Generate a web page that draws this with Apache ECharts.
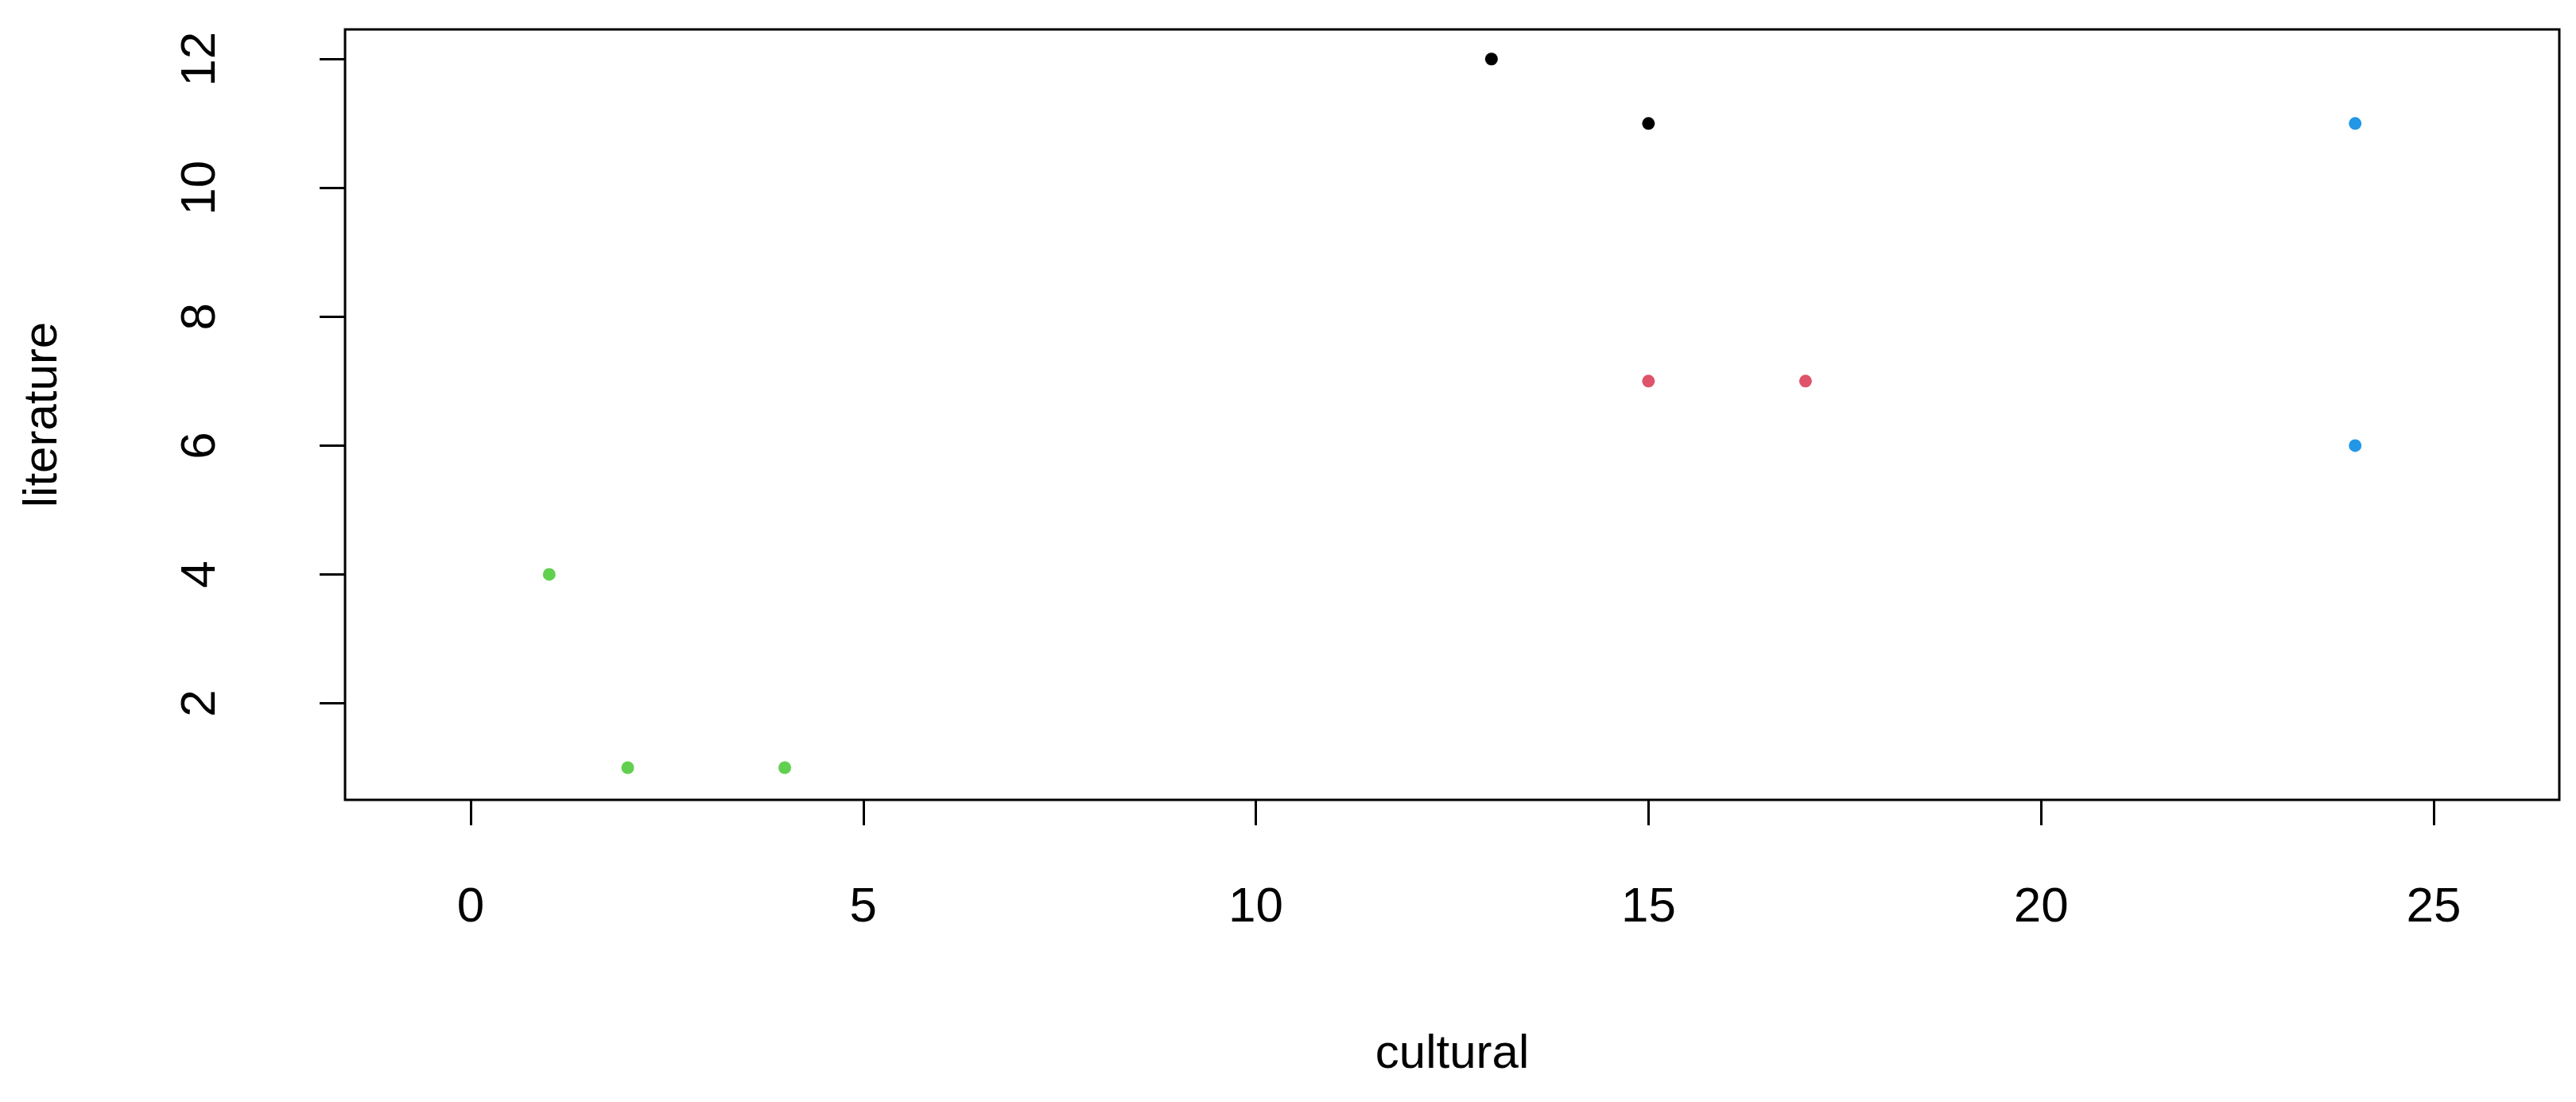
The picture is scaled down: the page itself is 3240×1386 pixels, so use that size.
<!DOCTYPE html>
<html><head><meta charset="utf-8">
<script src="https://cdn.jsdelivr.net/npm/echarts@6/dist/echarts.min.js"></script>
<style>html,body{margin:0;background:#fff}#c{width:3240px;height:1386px}</style>
</head><body><div id="c"></div>
<script>
// points grouped by colour: [cultural, literature]
const blackPts = [[13, 12], [15, 11]];
const redPts = [[15, 7], [17, 7]];
const greenPts = [[1, 4], [2, 1], [4, 1]];
const bluePts = [[24, 11], [24, 6]];
const xTicks = [0, 5, 10, 15, 20, 25];
const yTicks = [2, 4, 6, 8, 10, 12];

var myChart = echarts.init(document.getElementById('c'));
const font = 'Liberation Sans, Arial, sans-serif';
function tick(vals) {
  return { show: true, customValues: vals, length: 32, lineStyle: { color: '#000', width: 3 } };
}
function pts(data, color) {
  return { type: 'scatter', data: data, symbolSize: 16, itemStyle: { color: color, opacity: 1 } };
}
var option = {
  backgroundColor: '#fff',
  grid: { left: 434, right: 21, top: 37, bottom: 380, show: true, borderColor: '#000', borderWidth: 3 },
  xAxis: {
    type: 'value', min: -1.6, max: 26.6,
    name: 'cultural', nameLocation: 'middle', nameGap: 290,
    nameTextStyle: { fontFamily: font, fontSize: 60, color: '#000' },
    axisLine: { show: false, onZero: false },
    splitLine: { show: false },
    axisTick: tick(xTicks),
    axisLabel: { customValues: xTicks, fontFamily: font, fontSize: 62, color: '#000', margin: 105 }
  },
  yAxis: {
    type: 'value', min: 0.5, max: 12.46,
    name: 'literature', nameLocation: 'middle', nameGap: 350,
    nameTextStyle: { fontFamily: font, fontSize: 60, color: '#000' },
    axisLine: { show: false, onZero: false },
    splitLine: { show: false },
    axisTick: tick(yTicks),
    axisLabel: { customValues: yTicks, rotate: 90, fontFamily: font, fontSize: 62, color: '#000', margin: 150 }
  },
  series: [
    pts(blackPts, '#000000'),
    pts(redPts, '#DF536B'),
    pts(greenPts, '#61D04F'),
    pts(bluePts, '#2297E6')
  ]
};
myChart.setOption(option);
</script></body></html>
